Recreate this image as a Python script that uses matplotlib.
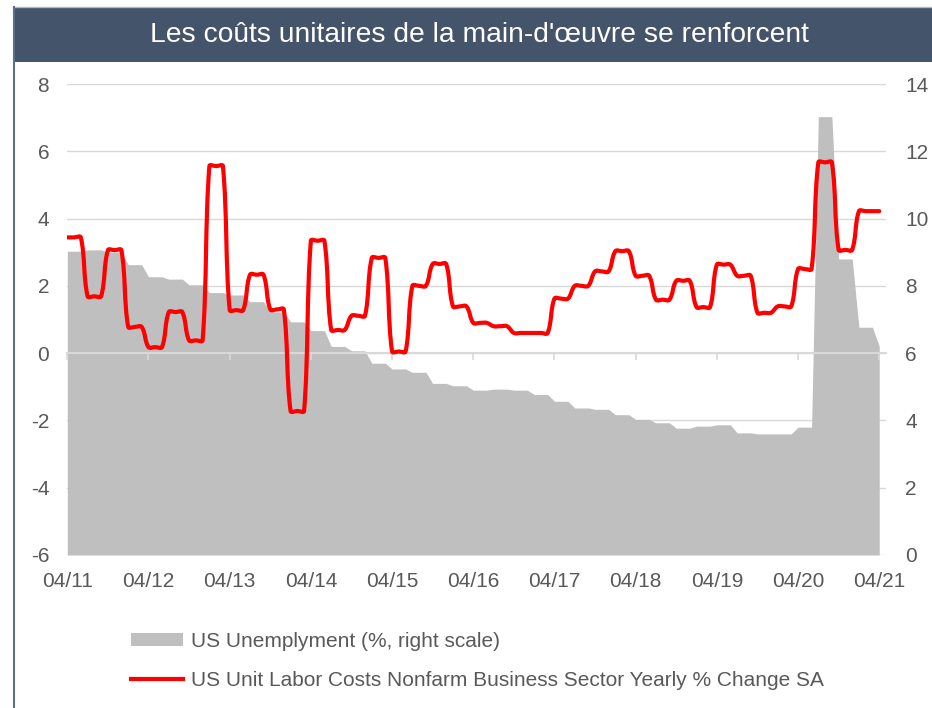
import numpy as np
import matplotlib
matplotlib.use('Agg')
import matplotlib.pyplot as plt
from matplotlib.path import Path
from matplotlib.patches import PathPatch, Patch, Rectangle
from matplotlib.lines import Line2D

plt.rcParams['font.family'] = ['Liberation Sans', 'DejaVu Sans']
plt.rcParams['axes.unicode_minus'] = False

# quarterly values, each shown on three monthly points starting 04/11
unemployment = [9.03, 9.07, 9.0, 8.63, 8.27, 8.2, 8.03, 7.8, 7.73, 7.53, 7.23, 6.93,
                6.67, 6.2, 6.07, 5.7, 5.53, 5.43, 5.1, 5.03, 4.9, 4.93, 4.9, 4.77,
                4.57, 4.37, 4.33, 4.17, 4.03, 3.93, 3.77, 3.83, 3.87, 3.63, 3.6, 3.6,
                3.8, 13.03, 8.8, 6.77, 6.2]
unit_labor = [3.44, 1.69, 3.06, 0.78, 0.18, 1.22, 0.38, 5.56, 1.28, 2.33, 1.3, -1.72,
              3.34, 0.69, 1.11, 2.83, 0.05, 2.0, 2.65, 1.39, 0.9, 0.8, 0.6, 0.6,
              1.62, 2.0, 2.43, 3.03, 2.3, 1.59, 2.15, 1.37, 2.63, 2.3, 1.2, 1.39,
              2.5, 5.67, 3.07, 4.22, 4.22]
tick_labels = ['04/11', '04/12', '04/13', '04/14', '04/15', '04/16', '04/17',
               '04/18', '04/19', '04/20', '04/21']
title = "Les coûts unitaires de la main-d'œuvre se renforcent"
label_unemp = 'US Unemplyment (%, right scale)'
label_ulc = 'US Unit Labor Costs Nonfarm Business Sector Yearly % Change SA'

n_months = 121
months = np.arange(n_months)
unemp_m = np.repeat(unemployment, 3)[:n_months]
ulc_m = np.repeat(unit_labor, 3)[:n_months]

grey = '#bfbfbf'
grid_c = '#d9d9d9'
text_c = '#595959'


def smooth_path(ax, x, y, k=1/3):
    # Excel-like smoothed line: Bezier segments, tangents taken in screen space,
    # handle length proportional to the segment length
    x0, x1 = ax.get_xlim()
    y0, y1 = ax.get_ylim()
    sx = ax.bbox.width / (x1 - x0)
    sy = ax.bbox.height / (y1 - y0)
    P = np.column_stack([np.asarray(x, float) * sx, np.asarray(y, float) * sy])
    n = len(P)
    verts = [P[0]]
    codes = [Path.MOVETO]
    for i in range(n - 1):
        a = max(i - 1, 0)
        b = min(i + 2, n - 1)
        L = np.hypot(*(P[i + 1] - P[i]))
        t1 = P[i + 1] - P[a]
        t2 = P[b] - P[i]
        c1 = P[i] + t1 / np.hypot(*t1) * L * k
        c2 = P[i + 1] - t2 / np.hypot(*t2) * L * k
        verts += [c1, c2, P[i + 1]]
        codes += [Path.CURVE4] * 3
    verts = np.array(verts) / [sx, sy]
    return Path(verts, codes)


fig = plt.figure(figsize=(9.32, 7.08), dpi=100)
ax = fig.add_axes([67.3 / 932, 153 / 708, (886 - 67.3) / 932, 471 / 708])
ax2 = ax.twinx()

# right axis: unemployment area + gridlines (behind)
ax2.fill_between(months, 0, unemp_m, color=grey, linewidth=0, zorder=2)
ax2.set_ylim(0, 14)
ax2.set_yticks(np.arange(0, 15, 2))
ax2.grid(axis='y', color=grid_c, linewidth=1.0, zorder=0)
ax2.set_axisbelow(True)
ax2.tick_params(axis='y', length=0, pad=14, labelsize=15, labelcolor=text_c)

# left axis: unit labor costs line on top
ax.set_zorder(ax2.get_zorder() + 1)
ax.patch.set_visible(False)
ax.set_xlim(0, n_months)
ax.set_ylim(-6, 8)
ax.add_patch(PathPatch(smooth_path(ax, months, ulc_m), fill=False,
                       edgecolor='#ff0000', linewidth=3, capstyle='round',
                       joinstyle='round', zorder=3))
ax.set_yticks(np.arange(-6, 9, 2))
ax.set_xticks(np.arange(0, n_months, 12))
ax.set_xticklabels(tick_labels)
ax.tick_params(axis='y', length=0, pad=13, labelsize=15, labelcolor=text_c)
ax.tick_params(axis='x', length=0, pad=12, labelsize=15, labelcolor=text_c)

for a in (ax, ax2):
    for s in a.spines.values():
        s.set_visible(False)

# zero line with year ticks
ylo, yhi = ax.get_ylim()
zero_ax = ax.secondary_xaxis((0 - ylo) / (yhi - ylo))
zero_ax.set_xticks(np.arange(0, n_months, 12))
zero_ax.tick_params(axis='x', direction='out', length=5, width=1.2, color=grid_c,
                    labelbottom=False)
zero_ax.spines['bottom'].set_color(grid_c)
zero_ax.spines['bottom'].set_linewidth(1.5)

# title banner and frame
fig.add_artist(Rectangle((13 / 932, 1 - 62 / 708), 1, 55 / 708,
                         transform=fig.transFigure, facecolor='#44546a',
                         edgecolor='none'))
fig.add_artist(Line2D([13 / 932, 1], [1 - 7 / 708] * 2, transform=fig.transFigure,
                      color='#b0b8c0', linewidth=1))
fig.add_artist(Line2D([13.5 / 932] * 2, [0, 1 - 7 / 708], transform=fig.transFigure,
                      color='#5f7080', linewidth=1.5))
fig.text(479 / 932, 1 - 35 / 708, title, ha='center', va='center',
         color='white', fontsize=20.3)

handles = [Patch(facecolor=grey, edgecolor='none', label=label_unemp),
           Line2D([], [], color='#ff0000', linewidth=3, label=label_ulc)]
fig.legend(handles=handles, loc='upper left', bbox_to_anchor=(131 / 932, 1 - 632 / 708),
           frameon=False, fontsize=15, labelcolor=text_c, borderpad=0,
           borderaxespad=0, handlelength=2.5, handleheight=0.55,
           handletextpad=0.4, labelspacing=0.95)

fig.savefig('out.png', dpi=100, facecolor='white')
